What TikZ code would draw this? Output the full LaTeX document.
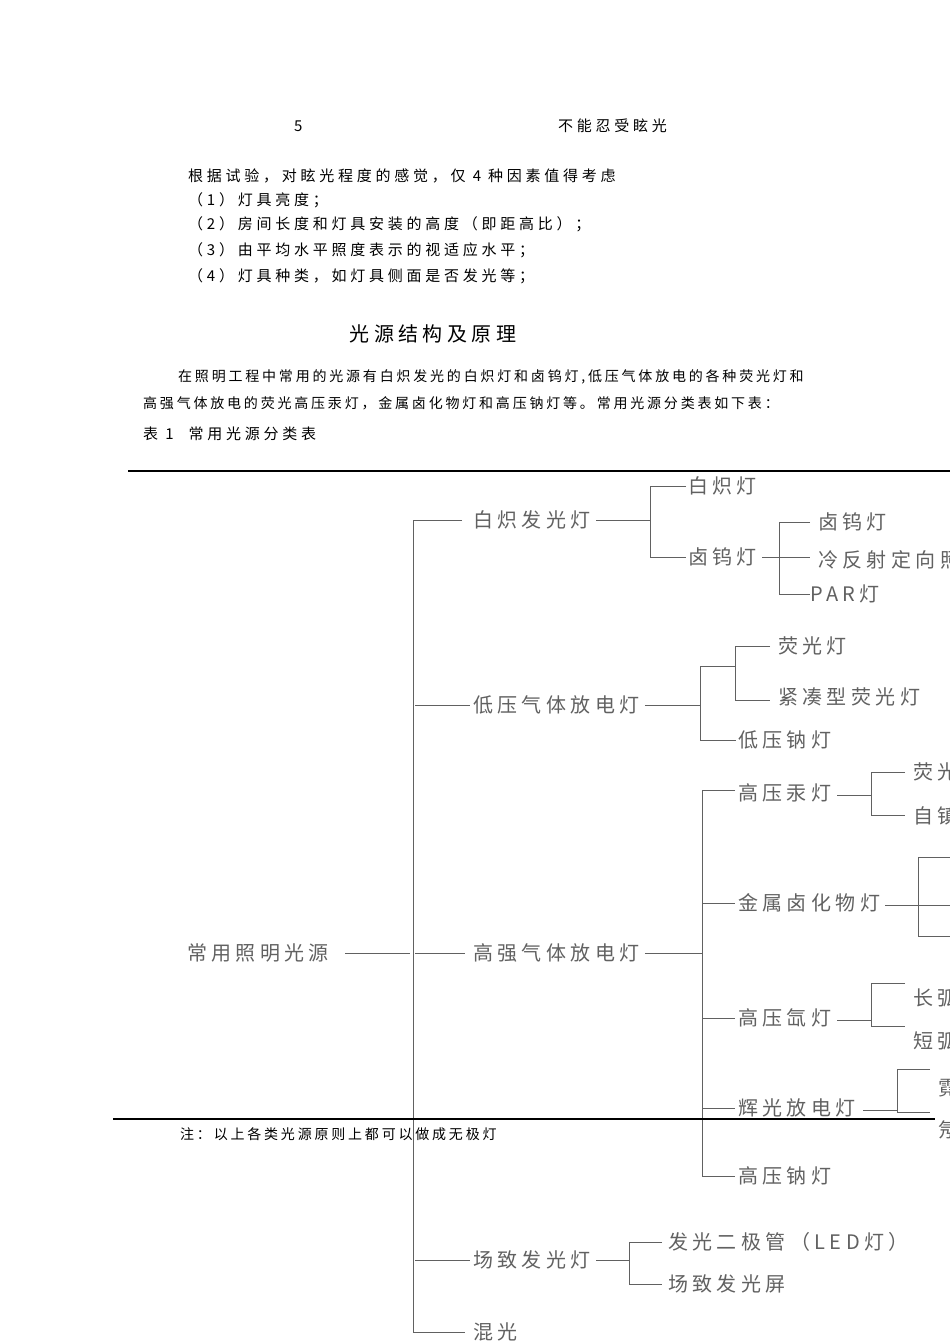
\documentclass[tikz,border=0pt]{standalone}
\usepackage{fontspec}
\newfontfamily\cjk{Noto Sans CJK SC}
\newfontfamily\cjkb[LetterSpace=25]{Noto Sans CJK SC}
\newfontfamily\cjkn[LetterSpace=20]{Noto Sans CJK SC}
\newfontfamily\cjkt[LetterSpace=22]{Noto Sans CJK SC}
\begin{document}
\begin{tikzpicture}[x=1pt,y=-1pt,
  body/.style={anchor=west,inner sep=0,font=\cjkb\fontsize{15}{15}\selectfont},
  small/.style={anchor=west,inner sep=0,font=\cjkn\fontsize{14}{14}\selectfont},
  tr/.style={anchor=west,inner sep=0,text=black!62,font=\cjkt\fontsize{20}{20}\selectfont},
  ln/.style={draw=black!62,line width=1pt}]
\useasboundingbox (0,0) rectangle (950,1344);
\clip (0,0) rectangle (950,1344);
\node[body] (h1) at (294,126) {5};
\node[body] (h2) at (558,126) {不能忍受眩光};
\node[body] (p0) at (188,176) {根据试验，对眩光程度的感觉，仅 4 种因素值得考虑};
\node[body] (p1) at (188,200) {（1）灯具亮度；};
\node[body] (p2) at (188,224) {（2）房间长度和灯具安装的高度（即距高比）；};
\node[body] (p3) at (188,250) {（3）由平均水平照度表示的视适应水平；};
\node[body] (p4) at (188,276) {（4）灯具种类，如灯具侧面是否发光等；};
\node[anchor=center,inner sep=0,font=\cjkt\fontsize{20}{20}\selectfont] (title) at (433,334) {光源结构及原理};
\node[small] (q1) at (178,377) {在照明工程中常用的光源有白炽发光的白炽灯和卤钨灯,低压气体放电的各种荧光灯和};
\node[small] (q2) at (143,403) {高强气体放电的荧光高压汞灯，金属卤化物灯和高压钠灯等。常用光源分类表如下表：};
\node[body] (cap) at (143,434) {表 1\quad 常用光源分类表};
\draw[line width=1.2pt] (128,471) -- (950,471);
% tree
\node[tr,anchor=center] (root) at (258,953) {常用照明光源};
\draw[ln] (345,953) -- (410,953);
\draw[ln] (462,520) -- (413,520) -- (413,1332) -- (465,1332);
\draw[ln] (415,705) -- (470,705);
\draw[ln] (415,953) -- (465,953);
\draw[ln] (415,1260) -- (470,1260);
% branch 1
\node[tr] (b1) at (473,520) {白炽发光灯};
\draw[ln] (b1.east)++(5,0) -- (650,520);
\draw[ln] (686,486) -- (650,486) -- (650,557) -- (686,557);
\node[tr] (b11) at (688,486) {白炽灯};
\node[tr] (b12) at (688,557) {卤钨灯};
\draw[ln] (b12.east)++(5,0) -- (810,557);
\draw[ln] (810,522) -- (779,522) -- (779,594) -- (810,594);
\node[tr] (b121) at (818,522) {卤钨灯};
\node[tr] (b122) at (818,560) {冷反射定向照明灯};
\node[tr] (b123) at (810,594) {PAR灯};
% branch 2
\node[tr] (b2) at (473,705) {低压气体放电灯};
\draw[ln] (b2.east)++(5,0) -- (700,705);
\draw[ln] (735,666) -- (700,666) -- (700,740) -- (736,740);
\draw[ln] (770,646) -- (735,646) -- (735,700) -- (770,700);
\node[tr] (b21) at (778,646) {荧光灯};
\node[tr] (b22) at (778,697) {紧凑型荧光灯};
\node[tr] (b23) at (738,740) {低压钠灯};
% branch 3
\node[tr] (b3) at (473,953) {高强气体放电灯};
\draw[ln] (b3.east)++(5,0) -- (702,953);
\draw[ln] (735,790) -- (702,790) -- (702,1176) -- (735,1176);
\draw[ln] (702,903) -- (735,903);
\draw[ln] (702,1018) -- (735,1018);
\draw[ln] (702,1108) -- (735,1108);
\node[tr] (c1) at (738,793) {高压汞灯};
\draw[ln] (837,795) -- (871,795);
\draw[ln] (905,772) -- (871,772) -- (871,815) -- (905,815);
\node[tr] (c11) at (913,772) {荧光高压汞灯};
\node[tr] (c12) at (913,816) {自镇流荧光高压汞灯};
\node[tr] (c2) at (738,903) {金属卤化物灯};
\draw[ln] (885,905) -- (950,905);
\draw[ln] (950,857) -- (918,857) -- (918,936) -- (950,936);
\node[tr] (c3) at (738,1018) {高压氙灯};
\draw[ln] (837,1020) -- (871,1020);
\draw[ln] (905,983) -- (871,983) -- (871,1026) -- (905,1026);
\node[tr] (c31) at (913,998) {长弧氙灯};
\node[tr] (c32) at (913,1041) {短弧氙灯};
\node[tr] (c4) at (738,1108) {辉光放电灯};
\draw[ln] (863,1110) -- (897,1110);
\draw[ln] (930,1069) -- (897,1069) -- (897,1112) -- (930,1112);
\node[tr] (c41) at (938,1088) {霓虹灯};
\node[tr] (c42) at (938,1130) {氖灯};
\node[tr] (c5) at (738,1176) {高压钠灯};
% branch 4
\node[tr] (b4) at (473,1260) {场致发光灯};
\draw[ln] (b4.east)++(5,0) -- (629,1260);
\draw[ln] (662,1242) -- (629,1242) -- (629,1284) -- (662,1284);
\node[tr] (b41) at (668,1242) {发光二极管（LED灯）};
\node[tr] (b42) at (668,1284) {场致发光屏};
\node[tr] (b5) at (473,1332) {混光};
% bottom rule and note
\draw[line width=1.2pt] (113,1119) -- (935,1119);
\node[small] (note) at (180,1134) {注：以上各类光源原则上都可以做成无极灯};
\end{tikzpicture}
\end{document}
